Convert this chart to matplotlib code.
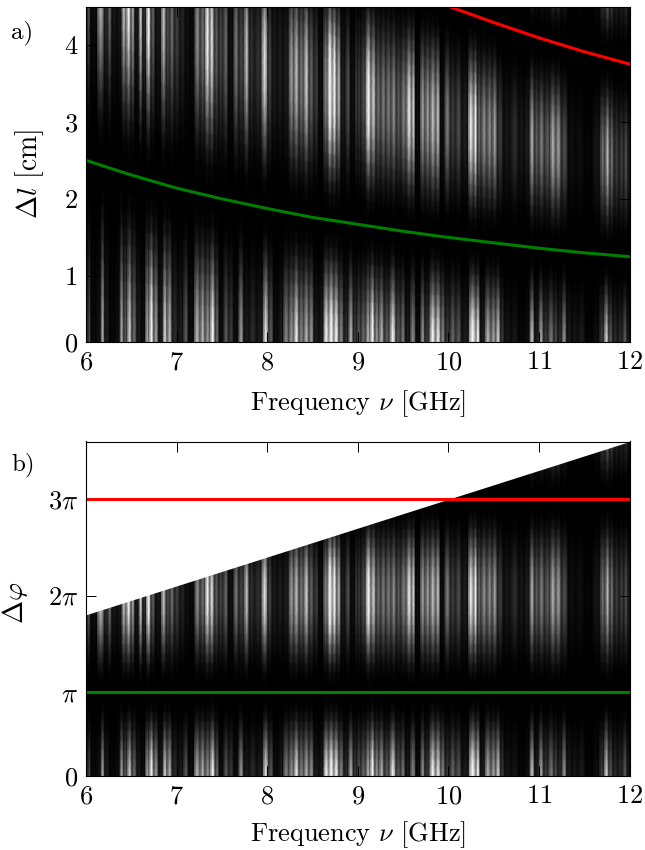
import numpy as np
import matplotlib
matplotlib.use("Agg")
import matplotlib.pyplot as plt

plt.rcParams["font.family"] = ["cmr10", "DejaVu Serif"]
plt.rcParams["mathtext.fontset"] = "cm"
plt.rcParams["axes.formatter.use_mathtext"] = True
plt.rcParams["axes.unicode_minus"] = False

# streak nodes, below the first null (phase < pi)
low_freq = [6.00, 6.04, 6.07, 6.15, 6.18, 6.23, 6.29, 6.35, 6.40, 6.43, 6.48, 6.53, 6.59, 6.63, 6.68, 6.72,
            6.77, 6.83, 6.87, 6.92, 6.98, 7.05, 7.10, 7.16, 7.23, 7.29, 7.34, 7.40, 7.45, 7.49, 7.55, 7.60,
            7.66, 7.71, 7.77, 7.84, 7.92, 7.99, 8.04, 8.10, 8.15, 8.21, 8.27, 8.32, 8.38, 8.43, 8.49, 8.54,
            8.60, 8.65, 8.71, 8.76, 8.82, 8.87, 8.93, 8.97, 9.01, 9.06, 9.12, 9.16, 9.21, 9.26, 9.32, 9.39,
            9.45, 9.50, 9.55, 9.61, 9.67, 9.72, 9.76, 9.83, 9.89, 9.94, 9.99, 10.05, 10.11, 10.18, 10.28,
            10.33, 10.37, 10.44, 10.50, 10.55, 10.60, 10.64, 10.74, 10.81, 10.87, 10.93, 10.97, 11.03,
            11.07, 11.14, 11.19, 11.23, 11.28, 11.33, 11.40, 11.47, 11.55, 11.64, 11.69, 11.75, 11.79,
            11.84, 11.90, 11.95, 12.00]
low_amp = [.25, .25, .04, .06, .55, .1, .03, .05, .55, .3, .7, .35, .1, .05, .55, .95,
           .5, .1, .7, .6, .15, .1, .3, .05, .6, .6, .5, .85, .35, .05, .3, .2,
           .05, .5, .1, .15, .1, .75, .3, .05, .1, .45, .5, .8, .45, .6, .5, .1,
           .1, .85, 1, .85, .45, .15, .6, .2, .3, .35, .6, 1, .5, .6, .3, .8,
           .3, .4, .1, .45, .05, .5, .2, .85, .8, .45, .2, .35, .3, .1, .95,
           .85, .1, .6, .55, .7, .2, .08, .08, .03, .05, .65, .1, .55,
           .2, .4, .25, .15, .5, .1, .08, .1, .02, .05, .2, .7, .3,
           .15, .15, .3, .1]

# streak nodes between the two nulls (pi < phase < 3 pi), also used above 3 pi
mid_freq = [6.00, 6.03, 6.07, 6.18, 6.22, 6.26, 6.31, 6.37, 6.42, 6.47, 6.52, 6.56, 6.61, 6.64, 6.69, 6.74,
            6.79, 6.87, 6.90, 6.95, 7.00, 7.07, 7.12, 7.17, 7.23, 7.29, 7.34, 7.39, 7.44, 7.49, 7.54, 7.60,
            7.66, 7.71, 7.78, 7.82, 7.90, 7.98, 8.03, 8.08, 8.14, 8.21, 8.27, 8.32, 8.38, 8.43, 8.49, 8.54,
            8.60, 8.64, 8.70, 8.74, 8.79, 8.84, 8.89, 8.95, 8.99, 9.01, 9.06, 9.12, 9.17, 9.23, 9.28, 9.34,
            9.40, 9.45, 9.50, 9.58, 9.61, 9.66, 9.72, 9.77, 9.83, 9.89, 9.93, 9.99, 10.05, 10.11, 10.18,
            10.26, 10.30, 10.34, 10.39, 10.46, 10.51, 10.57, 10.64, 10.74, 10.81, 10.87, 10.93, 10.97,
            11.03, 11.09, 11.16, 11.21, 11.28, 11.36, 11.45, 11.55, 11.64, 11.71, 11.76, 11.80, 11.86,
            11.91, 11.97, 12.00]
mid_amp = [.15, .3, .05, .6, .15, .35, .08, .08, .6, .8, .5, .08, .65, .15, .85, .3,
           .08, .6, .25, .35, .2, .12, .06, .04, .45, .35, .8, .7, .3, .22, .33, .06,
           .38, .22, .6, .16, .16, .7, .22, .1, .1, .1, .5, .6, .38, .65, .32, .2,
           .05, .42, 1, .9, .55, .1, .25, .05, .2, .2, .25, .9, .65, .35, .4, .4,
           .45, .3, .4, .75, .7, .05, .5, .5, .6, .6, .05, .4, .2, .25, .1,
           .75, .85, .35, .45, .45, .5, .2, .08, .15, .08, .1, .55, .3,
           .4, .3, .55, .5, .25, .05, .05, .02, .08, .35, .6, .35, .2,
           .2, .25, .1]

# fading of the streaks with phase (in units of pi), between the nulls
low_phase = [0, .1, .2, .3, .4, .5, .6, .7, .8, .9, 1]
low_fade = [1, .97, .9, .76, .6, .43, .28, .15, .06, .015, 0]
mid_phase = [1, 1.1, 1.2, 1.3, 1.4, 1.5, 1.6, 1.7, 1.8, 1.9, 2, 2.1, 2.2, 2.3, 2.4, 2.5, 2.6, 2.7, 2.8, 2.9, 3]
mid_fade = [0, .015, .06, .15, .28, .43, .6, .76, .9, .97, 1, .97, .9, .76, .6, .43, .28, .15, .06, .015, 0]
top_phase = [3, 3.1, 3.2, 3.3, 3.4, 3.5, 3.6]
top_fade = [0, .015, .06, .15, .28, .43, .6]

# marked curves
green_freq = [6, 6.5, 7, 7.5, 8, 8.5, 9, 9.5, 10, 10.5, 11, 11.5, 12]
green_dl = [2.5, 2.31, 2.14, 2.0, 1.875, 1.76, 1.67, 1.58, 1.5, 1.43, 1.36, 1.30, 1.25]
red_freq = [9.9, 10, 10.5, 11, 11.5, 12]
red_dl = [4.55, 4.5, 4.29, 4.09, 3.91, 3.75]

freq_ticks = [6, 7, 8, 9, 10, 11, 12]
dl_ticks = [0.143, 1, 2, 3, 4]
dl_labels = ["0", "1", "2", "3", "4"]
phi_ticks = [0.125, 1, 2, 3]
phi_labels = ["0", r"$\pi$", r"$2\pi$", r"$3\pi$"]
cut_freq = [6, 12]
cut_phi = [1.8, 3.6]

lobes = [(low_freq, low_amp, low_phase, low_fade),
         (mid_freq, mid_amp, mid_phase, mid_fade),
         (mid_freq, mid_amp, top_phase, top_fade)]


def bars(freq, amp):
    # each node becomes a thin peak over its own column, darker at the column edges
    f = np.asarray(freq)
    a = np.asarray(amp)
    edges = np.r_[f[0], (f[1:] + f[:-1]) / 2, f[-1]]
    centers = (edges[:-1] + edges[1:]) / 2
    x = np.column_stack([edges[:-1] + 0.003, centers, edges[1:] - 0.003]).ravel()
    v = np.column_stack([0.5 * a, a, 0.5 * a]).ravel()
    return x, v


W, H = 645, 850
fig = plt.figure(figsize=(W / 100, H / 100), dpi=100)
ax1 = fig.add_axes([86 / W, 1 - 342 / H, 543.5 / W, 335 / H])
ax2 = fig.add_axes([86 / W, 1 - 776 / H, 543.5 / W, 334.5 / H])

for freq, amp, phase, fade in lobes:
    xb, ab = bars(freq, amp)
    X, P = np.meshgrid(xb, phase)
    Z = np.outer(fade, ab)
    # phase in pi units -> path difference in cm: c / (2 nu) = 15 / nu
    ax1.pcolormesh(X, P * 15 / X, Z, shading="gouraud", cmap="gray", vmin=0, vmax=0.78, zorder=1)
    ax2.pcolormesh(X, P, Z, shading="gouraud", cmap="gray", vmin=0, vmax=0.78, zorder=1)

ax2.fill_between(cut_freq, cut_phi, [3.7, 3.7], color="white", lw=0, zorder=1.5)

ax1.plot(green_freq, green_dl, color="#007f00", lw=2.2, zorder=2)
ax1.plot(red_freq, red_dl, color="#ff0000", lw=2.2, zorder=2)
ax2.plot(cut_freq, [1, 1], color="#007f00", lw=2.2, zorder=2)
ax2.plot(cut_freq, [3, 3], color="#ff0000", lw=2.2, zorder=2)

ax1.set_ylim(0.143, 4.49)
ax1.set_yticks(dl_ticks, dl_labels)
ax2.set_ylim(0.125, 3.6)
ax2.set_yticks(phi_ticks, phi_labels)

for ax in (ax1, ax2):
    ax.set_facecolor("black")
    ax.set_xlim(6, 12)
    ax.set_xticks(freq_ticks)
    ax.tick_params(direction="in", top=True, right=True, length=7.5, width=0.7, pad=6, labelsize=19, zorder=5)
    ax.set_xlabel(r"Frequency $\nu$ [GHz]", fontsize=19)
    for s in ax.spines.values():
        s.set_linewidth(0.8)
        s.set_zorder(6)

ax1.xaxis.set_label_coords(0.5, (342 - 388) / 335)
ax2.xaxis.set_label_coords(0.5, (776 - 819) / 334.5)
ax1.set_ylabel(r"$\Delta l$ [cm]", fontsize=20)
ax2.set_ylabel(r"$\Delta\varphi$", fontsize=20)
ax1.yaxis.set_label_coords((46 - 86) / 543.5, 1 - (174 - 7) / 335)
ax2.yaxis.set_label_coords((30 - 86) / 543.5, 1 - (603 - 441.5) / 334.5)

fig.text(11 / W, 1 - 33 / H, "a)", fontsize=18, va="center")
fig.text(11 / W, 1 - 465 / H, "b)", fontsize=18, va="center")

fig.savefig("out.png", dpi=100)
